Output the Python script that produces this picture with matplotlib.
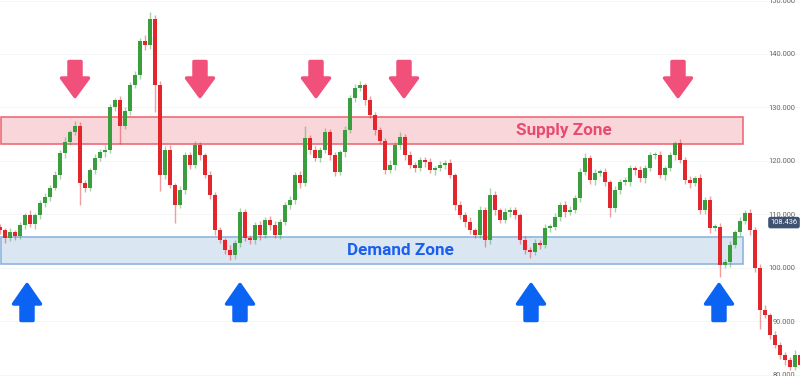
import matplotlib.pyplot as plt
import matplotlib.transforms as mtransforms
from matplotlib.patches import Rectangle, Polygon
import numpy as np

# closing prices, one candle every ~5 px of the original chart
CLOSES = [
    107.0, 105.5, 106.6, 105.9, 107.9, 109.8, 108.1, 109.8, 112.1, 113.2,
    115.0, 117.3, 121.4, 123.5, 125.3, 126.6, 115.8, 114.9, 118.2, 120.5,
    121.6, 122.0, 130.0, 131.3, 126.6, 129.4, 134.1, 136.0, 142.5, 141.6,
    146.6, 134.1, 117.3, 122.0, 115.4, 111.7, 114.5, 121.0, 119.2, 122.9,
    121.0, 117.3, 113.6, 107.0, 105.1, 103.3, 102.3, 104.6, 110.4, 105.5,
    105.1, 107.9, 106.1, 108.9, 107.9, 106.1, 108.5, 111.7, 112.6, 117.3,
    115.8, 124.2, 122.0, 120.5, 122.0, 125.3, 121.0, 117.9, 121.6, 125.7,
    131.7, 133.6, 134.1, 131.3, 128.5, 125.7, 123.8, 118.2, 119.2, 122.9,
    124.4, 121.0, 119.2, 118.6, 120.1, 119.7, 118.2, 118.6, 119.2, 119.5,
    117.3, 111.7, 109.8, 108.5, 107.0, 106.1, 110.7, 105.1, 113.6, 110.7,
    108.9, 110.4, 110.7, 109.8, 105.1, 103.3, 102.9, 104.6, 104.2, 107.4,
    107.6, 109.4, 111.7, 110.4, 110.7, 113.0, 117.9, 120.5, 116.4, 117.7,
    117.9, 116.0, 111.1, 114.5, 116.0, 116.0, 118.6, 118.2, 116.7, 118.6,
    121.0, 121.0, 117.3, 118.6, 121.0, 123.3, 120.1, 116.4, 115.8, 116.7,
    110.7, 112.6, 107.4, 107.6, 100.5, 101.0, 104.2, 106.6, 108.7, 110.2,
    107.0, 99.9, 92.1, 91.1, 87.4, 85.5, 83.6, 82.7, 81.4, 83.6,
    81.8,
]
FIRST_OPEN = 107.6

# wick length above / below the candle body
WICK_UP = [
    0.6, 0.4, 0.8, 0.5, 0.7, 0.4, 0.9, 0.5, 0.6, 0.8,
    0.5, 0.7, 0.6, 0.9, 0.5, 0.8, 0.6, 0.7, 0.5, 0.8,
    0.6, 0.9, 0.7, 0.5, 0.8, 0.6, 0.7, 0.9, 0.5, 1.0,
    1.2, 0.6, 0.8, 0.7, 0.9, 0.5, 0.8, 0.6, 0.7, 0.9,
    0.6, 0.5, 0.8, 0.6, 0.7, 0.5, 0.9, 0.6, 0.8, 0.5,
    0.7, 0.6, 0.8, 0.5, 0.7, 0.9, 0.6, 0.5, 0.8, 0.6,
    0.7, 2.4, 0.6, 0.8, 0.5, 0.9, 0.6, 0.7, 0.5, 0.8,
    0.6, 0.7, 0.9, 0.5, 0.8, 0.6, 0.7, 0.5, 0.9, 0.6,
    0.9, 0.6, 0.8, 0.5, 0.7, 0.6, 0.9, 0.5, 0.7, 0.6,
    0.8, 0.5, 0.7, 0.6, 0.9, 0.5, 0.8, 0.6, 1.3, 0.7,
    0.5, 0.8, 0.6, 0.7, 0.5, 0.9, 0.6, 0.8, 0.5, 0.7,
    0.6, 0.9, 0.5, 0.7, 0.8, 0.6, 0.7, 0.9, 0.5, 0.8,
    0.6, 0.7, 0.5, 0.8, 0.6, 0.9, 0.7, 0.5, 0.8, 0.6,
    0.7, 0.6, 0.9, 0.5, 0.7, 0.5, 0.8, 0.6, 0.7, 0.5,
    0.9, 0.6, 0.8, 0.5, 0.7, 0.6, 0.8, 0.5, 0.7, 0.5,
    0.8, 0.6, 0.7, 0.9, 0.5, 0.8, 0.6, 0.7, 0.5, 0.9,
    0.6,
]
WICK_DN = [
    0.7, 0.9, 0.5, 0.8, 0.6, 0.7, 0.5, 0.9, 0.6, 0.7,
    0.8, 0.5, 0.7, 0.9, 0.6, 0.5, 4.0, 0.8, 0.6, 0.7,
    0.5, 0.8, 0.6, 0.7, 3.5, 0.6, 0.8, 0.5, 0.7, 0.9,
    0.6, 5.0, 3.0, 0.7, 0.5, 3.4, 0.6, 0.8, 0.7, 0.5,
    0.9, 0.6, 0.7, 0.8, 0.5, 0.7, 0.9, 0.6, 0.8, 0.5,
    0.7, 0.6, 0.9, 0.5, 0.8, 0.6, 0.7, 0.5, 0.8, 0.6,
    0.9, 0.5, 0.7, 0.6, 0.8, 0.5, 0.9, 0.7, 0.6, 0.8,
    0.5, 0.7, 0.6, 0.9, 0.5, 0.8, 0.6, 0.7, 0.5, 0.9,
    0.6, 0.8, 0.5, 0.7, 0.6, 0.9, 0.5, 0.8, 0.6, 0.7,
    0.5, 0.9, 0.6, 0.8, 0.7, 0.5, 0.6, 1.3, 0.7, 0.8,
    0.6, 0.5, 0.9, 0.7, 0.6, 0.8, 1.1, 0.5, 0.7, 0.6,
    0.8, 0.5, 0.7, 0.9, 0.6, 0.5, 0.8, 0.6, 0.7, 0.9,
    0.5, 0.7, 1.7, 0.6, 0.8, 0.5, 0.7, 0.9, 0.6, 0.8,
    0.5, 0.7, 0.6, 0.8, 0.5, 0.9, 0.6, 0.7, 0.8, 0.5,
    0.7, 0.6, 0.9, 0.5, 2.3, 0.6, 0.8, 0.5, 0.7, 0.6,
    0.9, 0.7, 3.5, 0.6, 0.8, 0.5, 0.7, 0.9, 0.6, 0.5,
    0.8,
]

PRICE_TICKS = [150, 140, 130, 120, 110, 100, 90, 80]
LAST_PRICE = 108.436
SUPPLY_ZONE = (123.08, 128.13)
DEMAND_ZONE = (100.65, 105.70)

# arrow centres in pixels of the 800x376 picture
DOWN_ARROWS_X = [75, 200, 316, 404, 678]
UP_ARROWS_X = [27, 240, 531, 719]

GREEN = '#3a9e3f'
RED = '#e3262b'
PINK = '#f0507a'
BLUE = '#0b63f4'

W, H = 800, 376

fig = plt.figure(figsize=(8, 3.76), dpi=100)
ax = fig.add_axes([0, 0, 1, 1])

closes = np.array(CLOSES)
opens = np.r_[FIRST_OPEN, closes[:-1]]
idx = np.arange(len(closes))
rising = closes >= opens
colors = np.where(rising, GREEN, RED)
body_lo = np.minimum(opens, closes)
body_hi = np.maximum(opens, closes)
body_h = np.maximum(body_hi - body_lo, 0.35)

ax.vlines(idx, body_lo - np.array(WICK_DN), body_hi + np.array(WICK_UP),
          colors=colors, lw=1.0, alpha=0.45, zorder=3)
ax.bar(idx, body_h, bottom=body_lo, width=0.72, color=colors, linewidth=0, zorder=4)

ax.set_xlim(0, len(closes) - 1)
ax.set_ylim(150.0 - H / 5.35, 150.1)

trans = mtransforms.blended_transform_factory(ax.transAxes, ax.transData)

# zones
zone_w = 742 / W
ax.add_patch(Rectangle((0.001, SUPPLY_ZONE[0]), zone_w, SUPPLY_ZONE[1] - SUPPLY_ZONE[0],
                       transform=trans, facecolor='#f9d6da', edgecolor='#ee6b78',
                       lw=1.2, zorder=2))
ax.add_patch(Rectangle((0.001, DEMAND_ZONE[0]), zone_w, DEMAND_ZONE[1] - DEMAND_ZONE[0],
                       transform=trans, facecolor='#dbe6f3', edgecolor='#8db5dd',
                       lw=1.2, zorder=2))
ax.text(564 / W, sum(SUPPLY_ZONE) / 2, 'Supply Zone', transform=trans,
        ha='center', va='center', fontsize=12.3, fontweight='bold',
        family='Roboto', color='#ea4a70', zorder=6)
ax.text(400 / W, sum(DEMAND_ZONE) / 2, 'Demand Zone', transform=trans,
        ha='center', va='center', fontsize=12.3, fontweight='bold',
        family='Roboto', color='#1a5ff0', zorder=6)


def arrow(cx, tip, base, tail, color):
    # block arrow in pixel coords (y down), converted to axes fraction
    pts = [(cx - 6, tail), (cx + 6, tail), (cx + 6, base), (cx + 13.5, base),
           (cx, tip), (cx - 13.5, base), (cx - 6, base)]
    pts = [(x / W, 1 - y / H) for x, y in pts]
    ax.add_patch(Polygon(pts, closed=True, transform=ax.transAxes,
                         facecolor=color, edgecolor=color, lw=2.5,
                         joinstyle='round', zorder=7))


for cx in DOWN_ARROWS_X:
    arrow(cx, 96.5, 78, 61.5, PINK)
for cx in UP_ARROWS_X:
    arrow(cx, 284.5, 304, 320.5, BLUE)

# price scale inside the right edge
ax.set_yticks(PRICE_TICKS)
ax.set_yticklabels([f'{p:.3f}' for p in PRICE_TICKS])
ax.yaxis.tick_right()
ax.tick_params(axis='y', length=0, pad=-3.6, labelsize=5.4, labelcolor='#666666')
for lbl in ax.get_yticklabels():
    lbl.set_horizontalalignment('right')
    lbl.set_family('Roboto')
ax.set_xticks([])
ax.grid(axis='y', color='#f4f4f4', lw=0.6, zorder=0)
for s in ax.spines.values():
    s.set_visible(False)

ax.text(784 / W, LAST_PRICE, f'{LAST_PRICE:.3f}', transform=trans, ha='center',
        va='center', fontsize=5.4, family='Roboto', color='white', zorder=8,
        bbox=dict(boxstyle='round,pad=0.3,rounding_size=0.3', fc='#3f5272', ec='none'))

fig.savefig('out.png', dpi=100)
